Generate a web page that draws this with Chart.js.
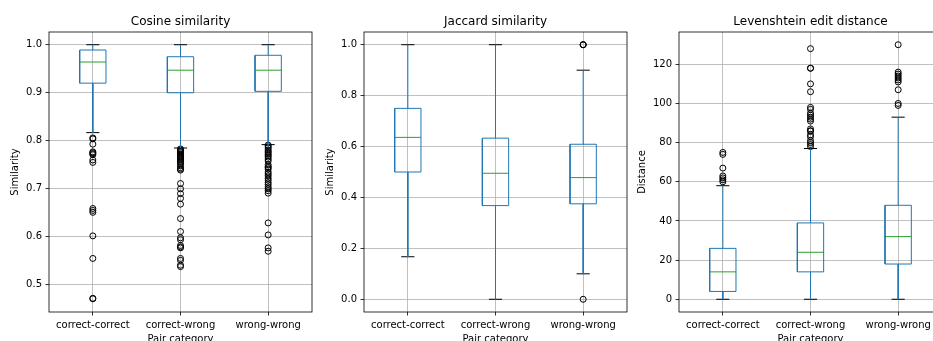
<!DOCTYPE html>
<html><head><meta charset="utf-8">
<script src="https://cdn.jsdelivr.net/npm/chart.js@4.4.1/dist/chart.umd.min.js"></script>
<style>
html,body{margin:0;padding:0;background:#fff;width:933px;height:341px;overflow:hidden;position:relative;}
canvas{position:absolute;top:0;}
</style></head><body>
<canvas id="c1" width="320" height="360" style="left:0px"></canvas>
<canvas id="c2" width="320" height="360" style="left:316px"></canvas>
<canvas id="c3" width="320" height="360" style="left:631px"></canvas>
<script>
// ---- data ----
const categories = ['correct-correct', 'correct-wrong', 'wrong-wrong'];

// Cosine similarity
const cosQ1  = [0.920, 0.900, 0.903];
const cosMed = [0.964, 0.947, 0.947];
const cosQ3  = [0.989, 0.975, 0.978];
const cosLo  = [0.817, 0.785, 0.792];
const cosHi  = [1.000, 1.000, 1.000];
const cosOutCC = [0.806, 0.804, 0.793, 0.777, 0.775, 0.773, 0.771, 0.760, 0.755, 0.659, 0.655, 0.651, 0.602, 0.555, 0.472, 0.471];
const cosOutCW = [0.783, 0.781, 0.779, 0.777, 0.775, 0.772, 0.770, 0.768, 0.766, 0.764, 0.762, 0.760, 0.757, 0.755, 0.752, 0.748, 0.744, 0.741, 0.739, 0.711, 0.700, 0.690, 0.680, 0.668, 0.638, 0.611, 0.598, 0.594, 0.582, 0.579, 0.577, 0.555, 0.551, 0.541, 0.538];
const cosOutWW = [0.791, 0.788, 0.785, 0.781, 0.778, 0.775, 0.772, 0.769, 0.766, 0.762, 0.758, 0.750, 0.746, 0.744, 0.741, 0.735, 0.731, 0.727, 0.722, 0.718, 0.713, 0.709, 0.704, 0.700, 0.696, 0.691, 0.629, 0.604, 0.577, 0.570];
const cosTicks = [0.5, 0.6, 0.7, 0.8, 0.9, 1.0];

// Jaccard similarity
const jacQ1  = [0.500, 0.368, 0.375];
const jacMed = [0.636, 0.495, 0.478];
const jacQ3  = [0.750, 0.633, 0.609];
const jacLo  = [0.167, 0.000, 0.100];
const jacHi  = [1.000, 1.000, 0.900];
const jacOutCC = [];
const jacOutCW = [];
const jacOutWW = [1.0, 1.0, 1.0, 0.0];
const jacTicks = [0.0, 0.2, 0.4, 0.6, 0.8, 1.0];

// Levenshtein edit distance
const levQ1  = [4, 14, 18];
const levMed = [14, 24, 32];
const levQ3  = [26, 39, 48];
const levLo  = [0, 0, 0];
const levHi  = [58, 77, 93];
const levOutCC = [75, 74, 67, 63, 62, 61, 60];
const levOutCW = [128, 118, 118, 110, 106, 98, 97, 95, 94, 93, 92, 91, 87, 86, 86, 84, 83, 81, 80, 79, 78];
const levOutWW = [130, 116, 115, 114, 113, 112, 111, 107, 100, 99];
const levTicks = [0, 20, 40, 60, 80, 100, 120];

// ---- rendering ----
Chart.defaults.font.family = "'DejaVu Sans', sans-serif";
Chart.defaults.font.size = 10;
Chart.defaults.color = '#000';

const C0 = '#1f77b4', C2 = '#2ca02c';
const HW = 0.15, CW = 0.075;

function boxDatasets(q1, med, q3, lo, hi, outs) {
  const boxPts = [], whPts = [], capPts = [], medPts = [], outPts = [];
  categories.forEach((c, i) => {
    const x = i + 1;
    boxPts.push({x: x - HW, y: q1[i]}, {x: x + HW, y: q1[i]}, {x: x + HW, y: q3[i]}, {x: x - HW, y: q3[i]}, {x: x - HW, y: q1[i]}, {x: x, y: null});
    whPts.push({x, y: q3[i]}, {x, y: hi[i]}, {x, y: null}, {x, y: q1[i]}, {x, y: lo[i]}, {x, y: null});
    capPts.push({x: x - CW, y: hi[i]}, {x: x + CW, y: hi[i]}, {x, y: null}, {x: x - CW, y: lo[i]}, {x: x + CW, y: lo[i]}, {x, y: null});
    medPts.push({x: x - HW, y: med[i]}, {x: x + HW, y: med[i]}, {x, y: null});
    outs[i].forEach(v => outPts.push({x, y: v}));
  });
  const seg = (data, color) => ({data, borderColor: color, borderWidth: 1, pointRadius: 0, pointHitRadius: 0, spanGaps: false, fill: false, tension: 0});
  return [
    seg(whPts, C0),
    seg(boxPts, C0),
    seg(capPts, '#000'),
    seg(medPts, C2),
    {data: outPts, showLine: false, pointRadius: 3, pointBorderWidth: 1, pointBorderColor: '#000', pointBackgroundColor: 'rgba(0,0,0,0)', pointStyle: 'circle'}
  ];
}

const spinePlugin = {
  id: 'spines',
  afterDatasetsDraw(chart) {
    const {ctx, chartArea: a} = chart;
    ctx.save();
    ctx.strokeStyle = '#000';
    ctx.lineWidth = 0.8;
    ctx.strokeRect(a.left, a.top, a.right - a.left, a.bottom - a.top);
    ctx.restore();
  }
};

function makeChart(id, title, yTitle, yMin, yMax, yTicks, fmt, datasets, yAxisW, yTitlePad, padRight) {
  return new Chart(document.getElementById(id), {
    type: 'line',
    data: {datasets},
    plugins: [spinePlugin],
    options: {
      responsive: false,
      animation: false,
      events: [],
      layout: {padding: {left: 0, right: padRight, top: 0, bottom: 0}, autoPadding: false},
      plugins: {
        legend: {display: false},
        tooltip: {enabled: false},
        title: {display: true, text: title, fullSize: false, color: '#000',
                font: {size: 12, weight: 'normal', lineHeight: 1.25}, padding: {top: 14, bottom: 3}}
      },
      scales: {
        x: {
          type: 'linear', min: 0.5, max: 3.5,
          afterBuildTicks: s => { s.ticks = categories.map((c, i) => ({value: i + 1})); },
          afterFit: s => { s.height = 48; },
          ticks: {callback: v => categories[Math.round(v) - 1], autoSkip: false, maxRotation: 0, padding: 3.5, color: '#000'},
          grid: {color: '#b0b0b0', lineWidth: 0.8, tickColor: '#000', tickLength: 3.5, tickWidth: 0.8},
          border: {display: false},
          title: {display: true, text: 'Pair category', color: '#000', font: {size: 10, lineHeight: 1.2}, padding: {top: 0, bottom: 14.5}}
        },
        y: {
          type: 'linear', min: yMin, max: yMax,
          afterBuildTicks: s => { s.ticks = yTicks.map(v => ({value: v})); },
          afterFit: s => { s.width = yAxisW; },
          ticks: {callback: fmt, padding: 3.5, color: '#000'},
          grid: {color: '#b0b0b0', lineWidth: 0.8, tickColor: '#000', tickLength: 3.5, tickWidth: 0.8},
          border: {display: false},
          title: {display: true, text: yTitle, color: '#000', font: {size: 10, lineHeight: 1.2}, padding: {top: yTitlePad, bottom: 0}}
        }
      }
    }
  });
}

makeChart('c1', 'Cosine similarity', 'Similarity', 0.4435, 1.0265, cosTicks, v => v.toFixed(1),
  boxDatasets(cosQ1, cosMed, cosQ3, cosLo, cosHi, [cosOutCC, cosOutCW, cosOutWW]), 49, 9, 8);
makeChart('c2', 'Jaccard similarity', 'Similarity', -0.05, 1.05, jacTicks, v => v.toFixed(1),
  boxDatasets(jacQ1, jacMed, jacQ3, jacLo, jacHi, [jacOutCC, jacOutCW, jacOutWW]), 48, 8, 9);
makeChart('c3', 'Levenshtein edit distance', 'Distance', -6.5, 136.5, levTicks, v => String(v),
  boxDatasets(levQ1, levMed, levQ3, levLo, levHi, [levOutCC, levOutCW, levOutWW]), 48, 5.7, 9);
</script>
</body></html>
